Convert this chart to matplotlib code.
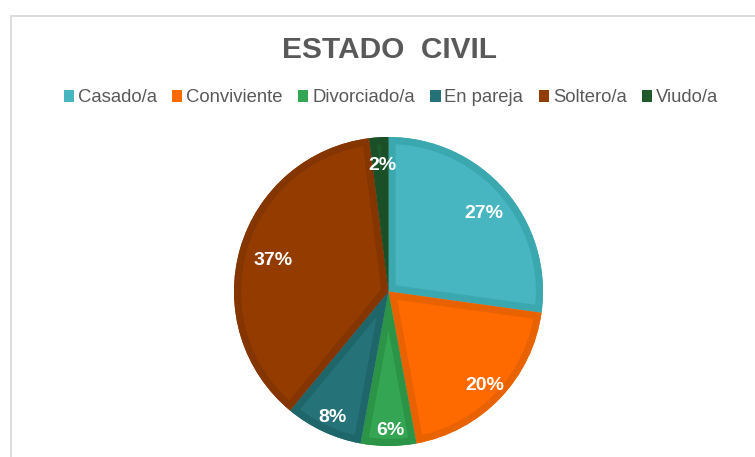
import matplotlib
matplotlib.use("Agg")
import numpy as np
import matplotlib.pyplot as plt
from matplotlib.patches import Patch, Rectangle, PathPatch

categories = ["Casado/a", "Conviviente", "Divorciado/a", "En pareja", "Soltero/a", "Viudo/a"]
values = [27.2, 19.9, 5.8, 8.1, 37.0, 2.0]
fill_colors = ["#47B6C1", "#FF6A00", "#33A553", "#257278", "#943C00", "#1E5A2C"]
edge_colors = ["#3BA7AF", "#E96200", "#2C9446", "#1F666B", "#843500", "#1A4F27"]
title = "ESTADO  CIVIL"

# radial placement of each percentage label (Excel "best fit" look)
label_radius = [0.80, 0.85, 0.88, 0.88, 0.79, 0.84]

plt.rcParams['font.family'] = ['Liberation Sans', 'DejaVu Sans']

W, H = 755, 457
fig = plt.figure(figsize=(W / 100, H / 100), dpi=100)

# chart border (left & top visible)
fig.patches.append(Rectangle((11 / W, -0.1), 1.2, (H - 16) / H + 0.1, transform=fig.transFigure,
                             fill=False, edgecolor="#D9D9D9", linewidth=1.3))

cx, cy, r = 388.5, 291.5, 154.5
ax = fig.add_axes([(cx - r) / W, (H - cy - r) / H, 2 * r / W, 2 * r / H])
wedges, _, autotexts = ax.pie(values, colors=fill_colors, startangle=90, counterclock=False,
                              radius=1.0, autopct=lambda p: f"{p:.0f}%", pctdistance=0.8,
                              wedgeprops=dict(linewidth=0),
                              textprops=dict(color="white", fontsize=14, fontweight="bold",
                                             zorder=5))
for w, ec, t, lr in zip(wedges, edge_colors, autotexts, label_radius):
    border = PathPatch(w.get_path(), transform=w.get_transform(), facecolor="none",
                       edgecolor=ec, linewidth=10.2, joinstyle="miter", zorder=3)
    ax.add_patch(border)
    border.set_clip_path(w)
    mid = np.deg2rad((w.theta1 + w.theta2) / 2)
    t.set_position((lr * np.cos(mid) + 0.012, lr * np.sin(mid) - 0.02))
ax.set_xlim(-1, 1)
ax.set_ylim(-1, 1)
ax.set_aspect("equal")
ax.axis("off")

fig.text(389 / W, 1 - 50 / H, title, ha="center", va="center", fontsize=21.5,
         fontweight="bold", color="#595959")

handles = [Patch(facecolor=c, edgecolor="none") for c in fill_colors]
fig.legend(handles, categories, loc="center", bbox_to_anchor=(391 / W, 1 - 98 / H), ncol=6,
           frameon=False, fontsize=13.3, handlelength=0.55, handleheight=0.55,
           handletextpad=0.2, columnspacing=0.85, labelcolor="#595959", borderpad=0)

fig.savefig("out.png", dpi=100)
